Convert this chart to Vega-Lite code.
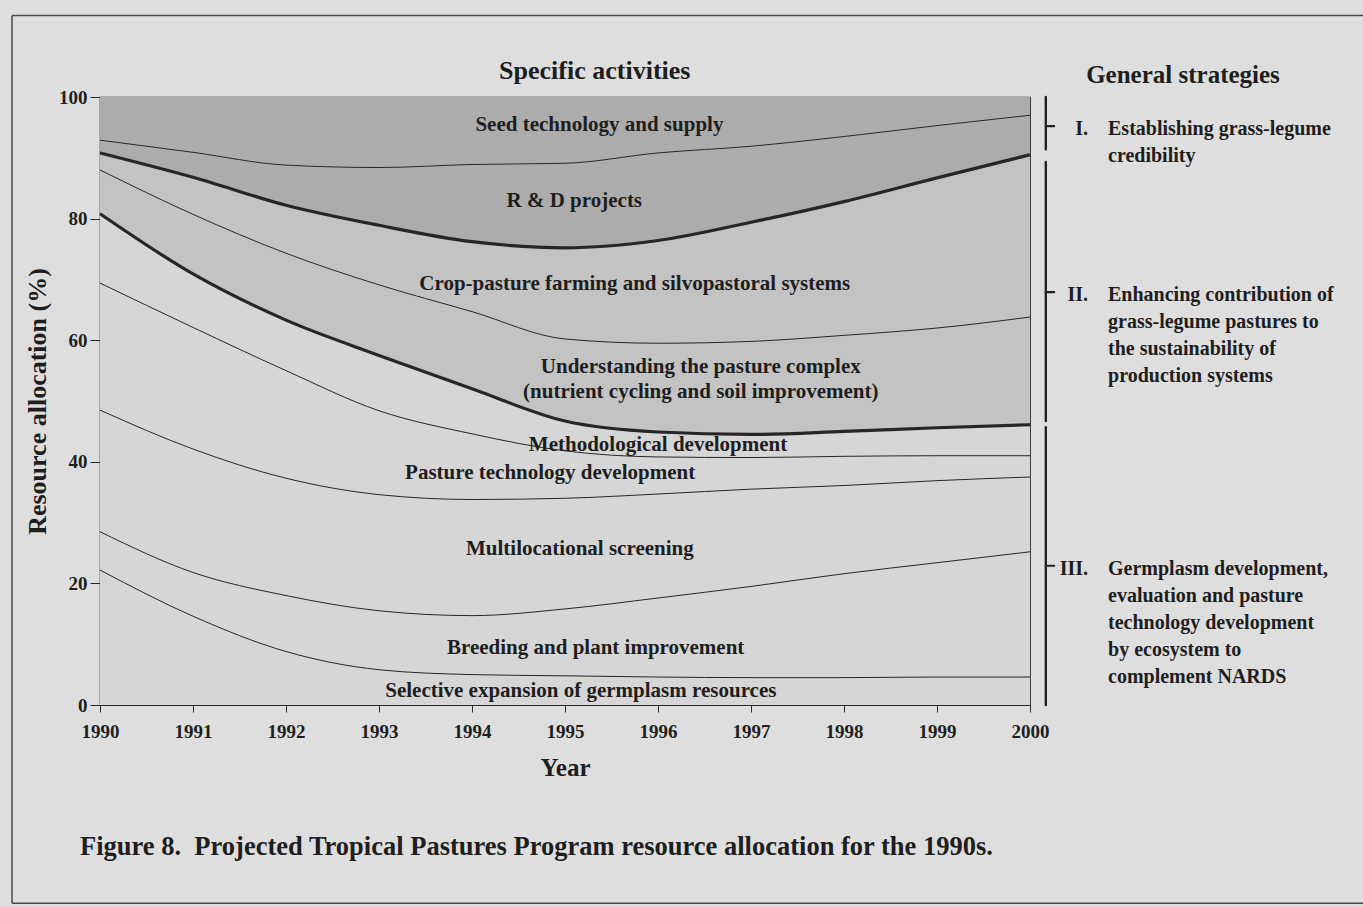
{
  "$schema": "https://vega.github.io/schema/vega-lite/v6.json",
  "width": 930,
  "height": 608,
  "autosize": {"type": "none"},
  "padding": {"left": 100, "top": 97, "right": 333, "bottom": 202},
  "background": "#dedede",
  "config": {
    "font": "Liberation Serif",
    "view": {"stroke": "#2a2a2a", "strokeWidth": 1.2},
    "axis": {
      "labelFont": "Liberation Serif",
      "labelFontWeight": "bold",
      "labelFontSize": 19,
      "labelColor": "#1e1e1e",
      "titleFont": "Liberation Serif",
      "titleFontWeight": "bold",
      "titleColor": "#1e1e1e",
      "domainColor": "#2a2a2a",
      "tickColor": "#2a2a2a",
      "grid": false,
      "labelFlush": false
    },
    "axisX": {"tickSize": 7, "labelPadding": 10, "titleFontSize": 25, "titlePadding": 14, "format": "d", "tickCount": 10},
    "axisY": {"tickSize": 10, "labelPadding": 3, "titleFontSize": 26, "titlePadding": 8, "tickCount": 5}
  },
  "datasets": {
    "activities": [
      {"activity": "SEL", "order": 1, "strategy": "III", "name": "Selective expansion of germplasm resources"},
      {"activity": "BRE", "order": 2, "strategy": "III", "name": "Breeding and plant improvement"},
      {"activity": "MUL", "order": 3, "strategy": "III", "name": "Multilocational screening"},
      {"activity": "PAS", "order": 4, "strategy": "III", "name": "Pasture technology development"},
      {"activity": "MET", "order": 5, "strategy": "III", "name": "Methodological development"},
      {"activity": "UND", "order": 6, "strategy": "II", "name": "Understanding the pasture complex (nutrient cycling and soil improvement)"},
      {"activity": "CRO", "order": 7, "strategy": "II", "name": "Crop-pasture farming and silvopastoral systems"},
      {"activity": "RD", "order": 8, "strategy": "I", "name": "R & D projects"},
      {"activity": "SEED", "order": 9, "strategy": "I", "name": "Seed technology and supply"}
    ],
    "allocation": [
      {"year": 1990, "activity": "SEL", "share": 22.2}, {"year": 1990, "activity": "BRE", "share": 6.3}, {"year": 1990, "activity": "MUL", "share": 20.0}, {"year": 1990, "activity": "PAS", "share": 20.9}, {"year": 1990, "activity": "MET", "share": 11.4}, {"year": 1990, "activity": "UND", "share": 7.2}, {"year": 1990, "activity": "CRO", "share": 2.8}, {"year": 1990, "activity": "RD", "share": 2.1}, {"year": 1990, "activity": "SEED", "share": 7.1},
      {"year": 1991, "activity": "SEL", "share": 14.6}, {"year": 1991, "activity": "BRE", "share": 7.2}, {"year": 1991, "activity": "MUL", "share": 20.3}, {"year": 1991, "activity": "PAS", "share": 20.0}, {"year": 1991, "activity": "MET", "share": 8.8}, {"year": 1991, "activity": "UND", "share": 9.8}, {"year": 1991, "activity": "CRO", "share": 6.1}, {"year": 1991, "activity": "RD", "share": 4.1}, {"year": 1991, "activity": "SEED", "share": 9.1},
      {"year": 1992, "activity": "SEL", "share": 8.8}, {"year": 1992, "activity": "BRE", "share": 9.2}, {"year": 1992, "activity": "MUL", "share": 19.3}, {"year": 1992, "activity": "PAS", "share": 17.7}, {"year": 1992, "activity": "MET", "share": 8.3}, {"year": 1992, "activity": "UND", "share": 11.0}, {"year": 1992, "activity": "CRO", "share": 7.9}, {"year": 1992, "activity": "RD", "share": 6.6}, {"year": 1992, "activity": "SEED", "share": 11.2},
      {"year": 1993, "activity": "SEL", "share": 5.8}, {"year": 1993, "activity": "BRE", "share": 9.7}, {"year": 1993, "activity": "MUL", "share": 19.1}, {"year": 1993, "activity": "PAS", "share": 13.8}, {"year": 1993, "activity": "MET", "share": 9.1}, {"year": 1993, "activity": "UND", "share": 11.6}, {"year": 1993, "activity": "CRO", "share": 9.8}, {"year": 1993, "activity": "RD", "share": 9.5}, {"year": 1993, "activity": "SEED", "share": 11.6},
      {"year": 1994, "activity": "SEL", "share": 5.0}, {"year": 1994, "activity": "BRE", "share": 9.7}, {"year": 1994, "activity": "MUL", "share": 19.1}, {"year": 1994, "activity": "PAS", "share": 10.8}, {"year": 1994, "activity": "MET", "share": 7.4}, {"year": 1994, "activity": "UND", "share": 12.7}, {"year": 1994, "activity": "CRO", "share": 11.5}, {"year": 1994, "activity": "RD", "share": 12.7}, {"year": 1994, "activity": "SEED", "share": 11.1},
      {"year": 1995, "activity": "SEL", "share": 4.8}, {"year": 1995, "activity": "BRE", "share": 11.0}, {"year": 1995, "activity": "MUL", "share": 18.2}, {"year": 1995, "activity": "PAS", "share": 7.8}, {"year": 1995, "activity": "MET", "share": 4.9}, {"year": 1995, "activity": "UND", "share": 13.5}, {"year": 1995, "activity": "CRO", "share": 15.0}, {"year": 1995, "activity": "RD", "share": 13.9}, {"year": 1995, "activity": "SEED", "share": 10.9},
      {"year": 1996, "activity": "SEL", "share": 4.6}, {"year": 1996, "activity": "BRE", "share": 13.0}, {"year": 1996, "activity": "MUL", "share": 17.1}, {"year": 1996, "activity": "PAS", "share": 6.1}, {"year": 1996, "activity": "MET", "share": 4.1}, {"year": 1996, "activity": "UND", "share": 14.6}, {"year": 1996, "activity": "CRO", "share": 16.9}, {"year": 1996, "activity": "RD", "share": 14.4}, {"year": 1996, "activity": "SEED", "share": 9.2},
      {"year": 1997, "activity": "SEL", "share": 4.5}, {"year": 1997, "activity": "BRE", "share": 15.0}, {"year": 1997, "activity": "MUL", "share": 16.0}, {"year": 1997, "activity": "PAS", "share": 5.2}, {"year": 1997, "activity": "MET", "share": 3.8}, {"year": 1997, "activity": "UND", "share": 15.3}, {"year": 1997, "activity": "CRO", "share": 19.6}, {"year": 1997, "activity": "RD", "share": 12.5}, {"year": 1997, "activity": "SEED", "share": 8.1},
      {"year": 1998, "activity": "SEL", "share": 4.5}, {"year": 1998, "activity": "BRE", "share": 17.1}, {"year": 1998, "activity": "MUL", "share": 14.5}, {"year": 1998, "activity": "PAS", "share": 4.8}, {"year": 1998, "activity": "MET", "share": 4.1}, {"year": 1998, "activity": "UND", "share": 15.8}, {"year": 1998, "activity": "CRO", "share": 22.0}, {"year": 1998, "activity": "RD", "share": 10.7}, {"year": 1998, "activity": "SEED", "share": 6.5},
      {"year": 1999, "activity": "SEL", "share": 4.6}, {"year": 1999, "activity": "BRE", "share": 18.8}, {"year": 1999, "activity": "MUL", "share": 13.5}, {"year": 1999, "activity": "PAS", "share": 4.1}, {"year": 1999, "activity": "MET", "share": 4.6}, {"year": 1999, "activity": "UND", "share": 16.4}, {"year": 1999, "activity": "CRO", "share": 24.7}, {"year": 1999, "activity": "RD", "share": 8.6}, {"year": 1999, "activity": "SEED", "share": 4.7},
      {"year": 2000, "activity": "SEL", "share": 4.6}, {"year": 2000, "activity": "BRE", "share": 20.6}, {"year": 2000, "activity": "MUL", "share": 12.3}, {"year": 2000, "activity": "PAS", "share": 3.5}, {"year": 2000, "activity": "MET", "share": 5.1}, {"year": 2000, "activity": "UND", "share": 17.7}, {"year": 2000, "activity": "CRO", "share": 26.7}, {"year": 2000, "activity": "RD", "share": 6.5}, {"year": 2000, "activity": "SEED", "share": 3.0}
    ],
    "labels": [
      {"text": "Seed technology and supply", "year": 1995.37, "pct": 95.4},
      {"text": "R & D projects", "year": 1995.1, "pct": 82.9},
      {"text": "Crop-pasture farming and silvopastoral systems", "year": 1995.75, "pct": 69.2},
      {"text": ["Understanding the pasture complex", "(nutrient cycling and soil improvement)"], "year": 1996.46, "pct": 55.6},
      {"text": "Methodological development", "year": 1996.0, "pct": 42.8},
      {"text": "Pasture technology development", "year": 1994.84, "pct": 38.2},
      {"text": "Multilocational screening", "year": 1995.16, "pct": 25.7},
      {"text": "Breeding and plant improvement", "year": 1995.33, "pct": 9.4},
      {"text": "Selective expansion of germplasm resources", "year": 1995.17, "pct": 2.3}
    ],
    "strategies": [
      {"numeral": "I.", "text": ["Establishing grass-legume", "credibility"], "hi": 100, "lo": 91.4, "mid": 95.2},
      {"numeral": "II.", "text": ["Enhancing contribution of", "grass-legume pastures to", "the sustainability of", "production systems"], "hi": 89.3, "lo": 46.7, "mid": 67.9},
      {"numeral": "III.", "text": ["Germplasm development,", "evaluation and pasture", "technology development", "by ecosystem to", "complement NARDS"], "hi": 45.7, "lo": 0, "mid": 22.9}
    ],
    "blank": [{}]
  },
  "layer": [
    {
      "data": {"name": "allocation"},
      "transform": [
        {"lookup": "activity", "from": {"data": {"name": "activities"}, "key": "activity", "fields": ["order", "strategy", "name"]}},
        {"stack": "share", "groupby": ["year"], "sort": [{"field": "order", "order": "ascending"}], "as": ["y0", "y1"]}
      ],
      "mark": {"type": "area", "interpolate": "monotone"},
      "encoding": {
        "x": {"field": "year", "type": "quantitative", "title": "Year", "scale": {"domain": [1990, 2000], "nice": false, "zero": false}},
        "y": {"field": "y1", "type": "quantitative", "title": "Resource allocation (%)", "stack": null, "scale": {"domain": [0, 100], "nice": false}},
        "y2": {"field": "y0"},
        "detail": {"field": "activity"},
        "color": {"field": "strategy", "type": "nominal", "scale": {"domain": ["I", "II", "III"], "range": ["#acacac", "#c3c3c3", "#d6d6d6"]}, "legend": null}
      }
    },
    {
      "data": {"name": "allocation"},
      "transform": [
        {"lookup": "activity", "from": {"data": {"name": "activities"}, "key": "activity", "fields": ["order", "strategy", "name"]}},
        {"stack": "share", "groupby": ["year"], "sort": [{"field": "order", "order": "ascending"}], "as": ["y0", "y1"]},
        {"filter": "datum.activity !== 'SEED'"}
      ],
      "mark": {"type": "line", "interpolate": "monotone", "color": "#262626"},
      "encoding": {
        "x": {"field": "year", "type": "quantitative", "title": "Year", "scale": {"domain": [1990, 2000], "nice": false, "zero": false}},
        "y": {"field": "y1", "type": "quantitative", "title": "Resource allocation (%)", "stack": null, "scale": {"domain": [0, 100], "nice": false}},
        "detail": {"field": "activity"},
        "strokeWidth": {"condition": {"test": "datum.activity === 'MET' || datum.activity === 'CRO'", "value": 3.2}, "value": 1}
      }
    },
    {
      "data": {"name": "labels"},
      "mark": {"type": "text", "font": "Liberation Serif", "fontWeight": "bold", "fontSize": 21, "color": "#1e1e1e", "align": "center", "baseline": "middle", "lineHeight": 25},
      "encoding": {
        "x": {"field": "year", "type": "quantitative", "title": "Year", "scale": {"domain": [1990, 2000], "nice": false, "zero": false}},
        "y": {"field": "pct", "type": "quantitative", "title": "Resource allocation (%)", "scale": {"domain": [0, 100], "nice": false}},
        "text": {"field": "text"}
      }
    },
    {
      "data": {"name": "strategies"},
      "mark": {"type": "rule", "color": "#222222", "strokeWidth": 2.4, "strokeCap": "round"},
      "encoding": {
        "x": {"datum": 2000.17, "type": "quantitative", "title": "Year", "scale": {"domain": [1990, 2000], "nice": false, "zero": false}},
        "y": {"field": "hi", "type": "quantitative", "title": "Resource allocation (%)", "scale": {"domain": [0, 100], "nice": false}},
        "y2": {"field": "lo"}
      }
    },
    {
      "data": {"name": "strategies"},
      "mark": {"type": "rule", "color": "#222222", "strokeWidth": 2.2, "strokeCap": "round"},
      "encoding": {
        "x": {"datum": 2000.17, "type": "quantitative", "title": "Year", "scale": {"domain": [1990, 2000], "nice": false, "zero": false}},
        "x2": {"datum": 2000.26},
        "y": {"field": "mid", "type": "quantitative", "title": "Resource allocation (%)", "scale": {"domain": [0, 100], "nice": false}}
      }
    },
    {
      "data": {"name": "strategies"},
      "mark": {"type": "text", "font": "Liberation Serif", "fontWeight": "bold", "fontSize": 20, "color": "#1e1e1e", "align": "right", "baseline": "alphabetic", "dy": 9},
      "encoding": {
        "x": {"datum": 2000.624, "type": "quantitative", "title": "Year", "scale": {"domain": [1990, 2000], "nice": false, "zero": false}},
        "y": {"field": "mid", "type": "quantitative", "title": "Resource allocation (%)", "scale": {"domain": [0, 100], "nice": false}},
        "text": {"field": "numeral"}
      }
    },
    {
      "data": {"name": "strategies"},
      "mark": {"type": "text", "font": "Liberation Serif", "fontWeight": "bold", "fontSize": 20, "color": "#1e1e1e", "align": "left", "baseline": "alphabetic", "dy": 9, "lineHeight": 27},
      "encoding": {
        "x": {"datum": 2000.839, "type": "quantitative", "title": "Year", "scale": {"domain": [1990, 2000], "nice": false, "zero": false}},
        "y": {"field": "mid", "type": "quantitative", "title": "Resource allocation (%)", "scale": {"domain": [0, 100], "nice": false}},
        "text": {"field": "text"}
      }
    },
    {
      "data": {"name": "blank"},
      "mark": {"type": "text", "text": "Specific activities", "font": "Liberation Serif", "fontWeight": "bold", "fontSize": 26, "color": "#1e1e1e", "align": "center", "baseline": "middle"},
      "encoding": {
        "x": {"datum": 1995.32, "type": "quantitative", "title": "Year", "scale": {"domain": [1990, 2000], "nice": false, "zero": false}},
        "y": {"datum": 104.2, "type": "quantitative", "title": "Resource allocation (%)", "scale": {"domain": [0, 100], "nice": false}}
      }
    },
    {
      "data": {"name": "blank"},
      "mark": {"type": "text", "text": "General strategies", "font": "Liberation Serif", "fontWeight": "bold", "fontSize": 25, "color": "#1e1e1e", "align": "center", "baseline": "middle"},
      "encoding": {
        "x": {"datum": 2001.645, "type": "quantitative", "title": "Year", "scale": {"domain": [1990, 2000], "nice": false, "zero": false}},
        "y": {"datum": 103.6, "type": "quantitative", "title": "Resource allocation (%)", "scale": {"domain": [0, 100], "nice": false}}
      }
    },
    {
      "data": {"name": "blank"},
      "mark": {"type": "text", "text": "Figure\u00a08.\u00a0\u00a0Projected Tropical Pastures Program resource allocation for the 1990s.", "font": "Liberation Serif", "fontWeight": "bold", "fontSize": 26.5, "color": "#1e1e1e", "align": "left", "baseline": "middle"},
      "encoding": {
        "x": {"datum": 1989.785, "type": "quantitative", "title": "Year", "scale": {"domain": [1990, 2000], "nice": false, "zero": false}},
        "y": {"datum": -23.3, "type": "quantitative", "title": "Resource allocation (%)", "scale": {"domain": [0, 100], "nice": false}}
      }
    },
    {
      "data": {"name": "blank"},
      "mark": {"type": "rule", "color": "#4a4a4a", "strokeWidth": 1.5},
      "encoding": {
        "x": {"datum": 1989.054, "type": "quantitative", "title": "Year", "scale": {"domain": [1990, 2000], "nice": false, "zero": false}},
        "y": {"datum": 113.4, "type": "quantitative", "title": "Resource allocation (%)", "scale": {"domain": [0, 100], "nice": false}},
        "y2": {"datum": -32.6}
      }
    },
    {
      "data": {"name": "blank"},
      "mark": {"type": "rule", "color": "#4a4a4a", "strokeWidth": 1.5},
      "encoding": {
        "x": {"datum": 1989.054, "type": "quantitative", "title": "Year", "scale": {"domain": [1990, 2000], "nice": false, "zero": false}},
        "x2": {"datum": 2003.6},
        "y": {"datum": 113.4, "type": "quantitative", "title": "Resource allocation (%)", "scale": {"domain": [0, 100], "nice": false}}
      }
    },
    {
      "data": {"name": "blank"},
      "mark": {"type": "rule", "color": "#4a4a4a", "strokeWidth": 1.5},
      "encoding": {
        "x": {"datum": 1989.054, "type": "quantitative", "title": "Year", "scale": {"domain": [1990, 2000], "nice": false, "zero": false}},
        "x2": {"datum": 2003.6},
        "y": {"datum": -32.6, "type": "quantitative", "title": "Resource allocation (%)", "scale": {"domain": [0, 100], "nice": false}}
      }
    }
  ]
}
